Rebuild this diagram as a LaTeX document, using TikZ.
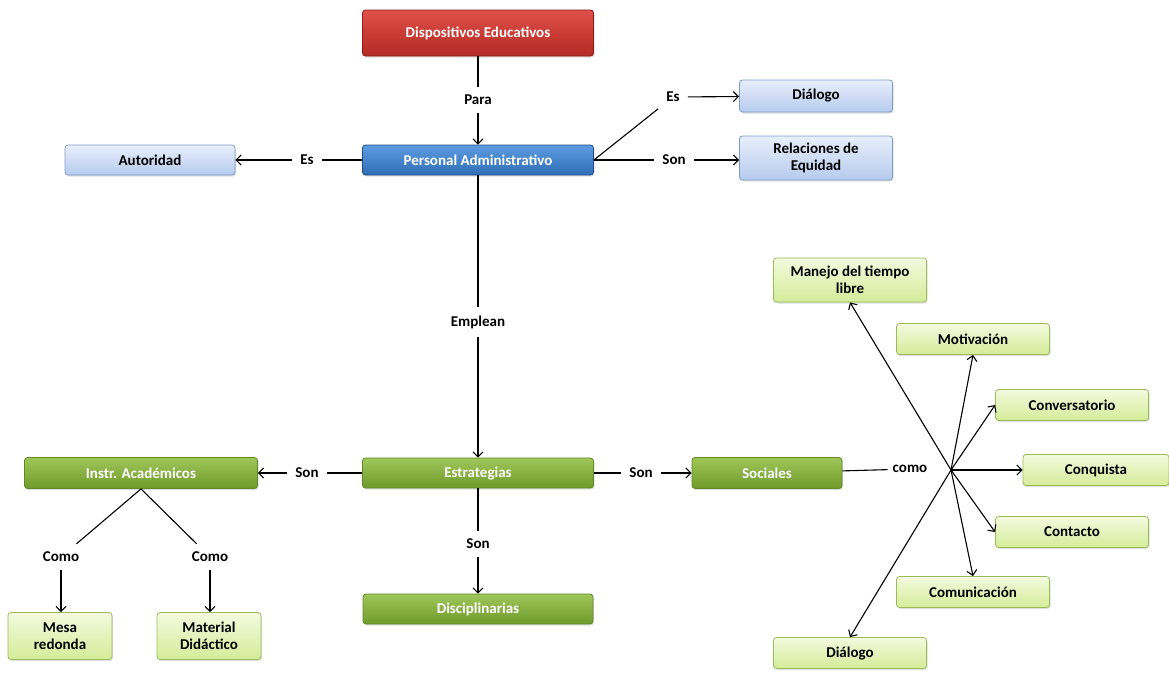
\documentclass[tikz,border=0pt]{standalone}
\usepackage{fontspec}
\setmainfont{Carlito}
\usetikzlibrary{arrows.meta,shadows}
\definecolor{redtop}{HTML}{E0504A}
\definecolor{redbot}{HTML}{B32A24}
\definecolor{redline}{HTML}{8C1C17}
\definecolor{bluetop}{HTML}{5C9CE0}
\definecolor{bluebot}{HTML}{2F6DB5}
\definecolor{blueline}{HTML}{1F4E8A}
\definecolor{palebluetop}{HTML}{E8EFFB}
\definecolor{palebluebot}{HTML}{B6CBEE}
\definecolor{palebluelin}{HTML}{7E9BC8}
\definecolor{greentop}{HTML}{A0C658}
\definecolor{greenbot}{HTML}{6E9A2C}
\definecolor{greenline}{HTML}{5F8A26}
\definecolor{palegrtop}{HTML}{F3FADF}
\definecolor{palegrbot}{HTML}{D4EC98}
\definecolor{palegrline}{HTML}{9BBB59}
\begin{document}
\begin{tikzpicture}[x=1pt,y=-1pt,
    box/.style={rounded corners=3pt,draw,line width=0.8pt,align=center,inner sep=2pt,
      font=\bfseries\fontsize{15}{17}\selectfont,
      drop shadow={opacity=0.25,shadow xshift=1pt,shadow yshift=-1.5pt}},
    redbox/.style={box,draw=redline,top color=redtop,bottom color=redbot,text=white},
    bluebox/.style={box,draw=blueline,top color=bluetop,bottom color=bluebot,text=white},
    paleblue/.style={box,draw=palebluelin,top color=palebluetop,bottom color=palebluebot},
    greenbox/.style={box,draw=greenline,top color=greentop,bottom color=greenbot,text=white},
    palegreen/.style={box,draw=palegrline,top color=palegrtop,bottom color=palegrbot},
    lbl/.style={font=\bfseries\fontsize{15}{17}\selectfont,inner sep=8pt},
    conn/.style={line width=1.1pt},
    arr/.style={conn,-{Straight Barb[length=5pt,width=10pt]}}]
  \useasboundingbox (0,0) rectangle (1169,672);
  %% top part
  \node[redbox,minimum width=231,minimum height=46] (disp) at (478,33) {Dispositivos Educativos};
  \node[bluebox,minimum width=231,minimum height=30] (pers) at (478,160) {Personal Administrativo};
  \node[paleblue,minimum width=170,minimum height=30] (auto) at (150,160) {Autoridad};
  \node[paleblue,minimum width=153,minimum height=32] (dial1) at (816,96) {Diálogo};
  \node[paleblue,minimum width=153,minimum height=44] (rela) at (816,158) {Relaciones de\\Equidad};
  \node[lbl] (para) at (478,100) {Para};
  \node[lbl] (es1) at (307,160) {Es};
  \node[lbl] (es2) at (673,97) {Es};
  \node[lbl] (son1) at (674,160) {Son};
  \node[lbl] (empl) at (478,322) {Emplean};
  \draw[conn] (disp) -- (para);
  \draw[arr] (para) -- (pers);
  \draw[conn] (pers) -- (es1);
  \draw[arr] (es1) -- (auto);
  \draw[conn] (pers.east) -- (es2);
  \draw[arr] (es2) -- (dial1);
  \draw[conn] (pers.east) -- (son1);
  \draw[arr] (son1) -- (son1 -| rela.west);
  \draw[conn] (pers) -- (empl);
  %% middle
  \node[greenbox,minimum width=231,minimum height=30] (estr) at (478,473) {Estrategias};
  \node[greenbox,minimum width=233,minimum height=31] (inst) at (141,473) {Instr. Académicos};
  \node[greenbox,minimum width=150,minimum height=31] (soci) at (767,473) {Sociales};
  \node[greenbox,minimum width=230,minimum height=30] (disc) at (478,609) {Disciplinarias};
  \node[lbl] (son2) at (307,473) {Son};
  \node[lbl] (son3) at (641,473) {Son};
  \node[lbl] (son4) at (478,544) {Son};
  \draw[arr] (empl) -- (estr);
  \draw[conn] (estr) -- (son2);
  \draw[arr] (son2) -- (inst);
  \draw[conn] (estr) -- (son3);
  \draw[arr] (son3) -- (soci);
  \draw[conn] (estr) -- (son4);
  \draw[arr] (son4) -- (disc);
  %% Instr. Academicos
  \node[lbl] (como1) at (61,557) {Como};
  \node[lbl] (como2) at (210,557) {Como};
  \node[palegreen,minimum width=104,minimum height=47] (mesa) at (60,636) {Mesa\\redonda};
  \node[palegreen,minimum width=104,minimum height=47] (mate) at (209,636) {Material\\Didáctico};
  \draw[conn] (inst.south) -- (como1);
  \draw[conn] (inst.south) -- (como2);
  \draw[arr] (como1) -- (como1 |- mesa.north);
  \draw[arr] (como2) -- (como2 |- mate.north);
  %% Sociales
  \node[lbl,inner sep=5pt] (como) at (910,469) {como};
  \coordinate (hub) at (951,470);
  \node[palegreen,minimum width=153,minimum height=44] (mane) at (850,280) {Manejo del tiempo\\libre};
  \node[palegreen,minimum width=153,minimum height=31] (moti) at (973,339) {Motivación};
  \node[palegreen,minimum width=153,minimum height=31] (conv) at (1072,405) {Conversatorio};
  \node[palegreen,minimum width=146,minimum height=31] (conq) at (1096,470) {Conquista};
  \node[palegreen,minimum width=153,minimum height=31] (cont) at (1072,532) {Contacto};
  \node[palegreen,minimum width=153,minimum height=31] (comu) at (973,592) {Comunicación};
  \node[palegreen,minimum width=153,minimum height=31] (dial2) at (850,653) {Diálogo};
  \draw[conn] (soci) -- (como);
  \draw[arr] (hub) -- (mane.south);
  \draw[arr] (hub) -- (moti.south);
  \draw[arr] (hub) -- (conv.west);
  \draw[arr] (hub) -- (conq.west);
  \draw[arr] (hub) -- (cont.west);
  \draw[arr] (hub) -- (comu.north);
  \draw[arr] (hub) -- (dial2.north);
\end{tikzpicture}
\end{document}
